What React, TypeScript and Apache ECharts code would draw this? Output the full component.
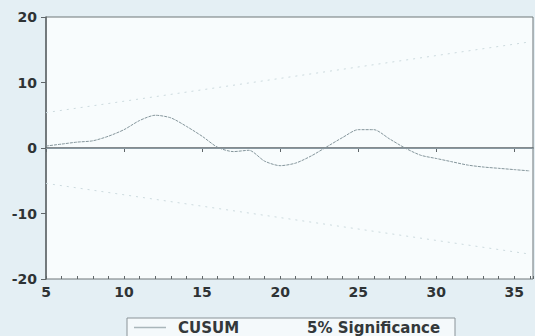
import React, { useEffect, useRef } from "react";
import * as echarts from "echarts";

const periods = [5, 6, 7, 8, 9, 10, 11, 12, 13, 14, 15, 16, 17, 18, 19, 20, 21, 22, 23, 24, 25, 26, 27, 28, 29, 30, 31, 32, 33, 34, 35, 36];
const cusum = [0.3, 0.6, 0.9, 1.1, 1.8, 2.8, 4.2, 5.0, 4.6, 3.3, 1.8, 0.1, -0.55, -0.35, -2.0, -2.7, -2.3, -1.2, 0.2, 1.6, 2.8, 2.8, 1.4, 0.0, -1.1, -1.6, -2.1, -2.6, -2.9, -3.1, -3.3, -3.5];
const upperStart = 5.4;
const upperEnd = 16.2;
const lowerStart = -5.4;
const lowerEnd = -16.2;
const xTicks = [5, 10, 15, 20, 25, 30, 35];
const yTicks = [-20, -10, 0, 10, 20];

export default function App() {
  const ref = useRef<HTMLDivElement>(null);
  useEffect(() => {
    document.body.style.margin = "0";
    const chart = echarts.init(ref.current!, null, { renderer: "svg" });
    const first = periods[0];
    const last = periods[periods.length - 1];
    const labelStyle = {
      color: "#2e3335",
      fontFamily: "DejaVu Sans",
      fontSize: 14,
      fontWeight: "bold" as const,
    };
    chart.setOption({
      animation: false,
      backgroundColor: "#e4eff4",
      graphic: [
        {
          type: "rect",
          z: 0,
          shape: { x: 127, y: 318, width: 328, height: 30 },
          style: { fill: "#f4f9fb", stroke: "#8a9398", lineWidth: 1 },
        },
      ],
      grid: {
        left: 46,
        right: 2,
        top: 17,
        bottom: 57,
        show: true,
        backgroundColor: "#f8fcfd",
        borderColor: "#6e7679",
        borderWidth: 1,
      },
      legend: {
        top: 320,
        left: 134,
        itemWidth: 32,
        itemHeight: 1.5,
        itemGap: 24,
        padding: 0,
        z: 5,
        textStyle: {
          fontFamily: "DejaVu Sans",
          fontSize: 15,
          lineHeight: 15,
          fontWeight: 600,
          color: "#33383a",
          padding: [0, 0, 0, 7],
        },
        data: [
          { name: "CUSUM", icon: "rect", itemStyle: { color: "#a9b6ba" } },
          { name: "5% Significance", icon: "none" },
        ],
      },
      xAxis: [
        {
          type: "value",
          min: 5,
          max: 36.2,
          interval: 5,
          axisLine: { show: true, lineStyle: { color: "#5f6669", width: 1.5 } },
          axisTick: { show: true, inside: false, length: 4, lineStyle: { color: "#5f6669" } },
          axisLabel: {
            ...labelStyle,
            margin: 6,
            showMaxLabel: false,
            formatter: (v: number) => (xTicks.includes(v) ? String(v) : ""),
          },
          splitLine: { show: false },
        },
        {
          type: "value",
          position: "bottom",
          min: 5,
          max: 36.2,
          interval: 1,
          axisLine: { show: false },
          axisTick: { show: true, inside: true, length: 3, lineStyle: { color: "#5f6669" } },
          axisLabel: { show: false },
          splitLine: { show: false },
        },
      ],
      yAxis: {
        type: "value",
        min: -20,
        max: 20,
        interval: 10,
        axisLine: { show: true, lineStyle: { color: "#5f6669", width: 1.5 } },
        axisTick: { show: true, inside: false, length: 5, lineStyle: { color: "#5f6669" } },
        axisLabel: {
          ...labelStyle,
          margin: 9,
          formatter: (v: number) => (yTicks.includes(v) ? String(v) : ""),
        },
        splitLine: { show: false },
      },
      series: [
        {
          name: "CUSUM",
          type: "line",
          xAxisIndex: 0,
          data: periods.map((p, i) => [p, cusum[i]]),
          showSymbol: false,
          smooth: 0.25,
          lineStyle: { color: "#84959b", width: 1, type: [3, 1] },
          markLine: {
            silent: true,
            symbol: "none",
            label: { show: false },
            lineStyle: { color: "#8797a0", width: 1.2, type: "solid" },
            data: [{ yAxis: 0 }],
          },
        },
        {
          name: "5% Significance",
          type: "line",
          xAxisIndex: 0,
          data: [
            [first, upperStart],
            [last, upperEnd],
          ],
          showSymbol: false,
          lineStyle: { color: "#ccdade", width: 1, type: [2, 5] },
        },
        {
          name: "5% Significance",
          type: "line",
          xAxisIndex: 0,
          data: [
            [first, lowerStart],
            [last, lowerEnd],
          ],
          showSymbol: false,
          lineStyle: { color: "#ccdade", width: 1, type: [2, 5] },
        },
      ],
    });
    return () => chart.dispose();
  }, []);
  return <div ref={ref} style={{ width: 535, height: 336 }} />;
}
